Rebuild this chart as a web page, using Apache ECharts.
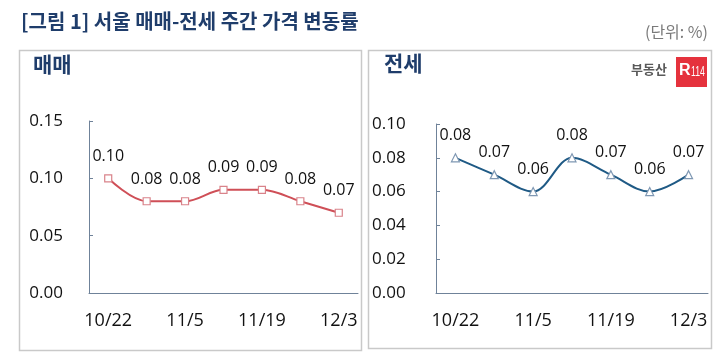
<!DOCTYPE html>
<html><head><meta charset="utf-8">
<script src="https://cdn.jsdelivr.net/npm/echarts@6/dist/echarts.min.js"></script>
<style>html,body{margin:0;padding:0;background:#fff}#c{width:720px;height:362px}</style>
</head><body><div id="c"></div>
<script>
const categories = ['10/22','10/29','11/5','11/12','11/19','11/26','12/3'];
const saleValues = [0.10, 0.08, 0.08, 0.09, 0.09, 0.08, 0.07];
const jeonseValues = [0.08, 0.07, 0.06, 0.08, 0.07, 0.06, 0.07];
const saleTicks = { min: 0, max: 0.15, interval: 0.05 };
const jeonseTicks = { min: 0, max: 0.10, interval: 0.02 };
const titleText = '[그림 1] 서울 매매-전세 주간 가격 변동률';
const unitText = '(단위: %)';
const panelNames = ['매매', '전세'];

const numFont = '"Open Sans", "Noto Sans", sans-serif';
const krFont = '"Noto Sans CJK KR", sans-serif';
const navy = '#1f3d6b';
const axisColor = '#6f8299';

const chart = echarts.init(document.getElementById('c'));
function yAx(grid, t, margin, align) {
  return {
    type: 'value', gridIndex: grid, min: t.min, max: t.max, interval: t.interval,
    splitLine: { show: false },
    axisLine: { show: true, lineStyle: { color: axisColor, width: 1 } },
    axisTick: { show: true, inside: true, length: 4, lineStyle: { color: axisColor } },
    axisLabel: { margin: margin, align: align, color: '#111', fontSize: 17, fontFamily: numFont,
      formatter: v => v.toFixed(2) }
  };
}
function xAx(grid) {
  return {
    type: 'category', gridIndex: grid, data: categories, boundaryGap: true,
    axisLine: { show: true, lineStyle: { color: axisColor, width: 1 } },
    axisTick: { show: false },
    axisLabel: { interval: 1, margin: 19, color: '#111', fontSize: 18, fontFamily: numFont }
  };
}
function lineSeries(idx, data, color, symbol, size, border) {
  return {
    type: 'line', xAxisIndex: idx, yAxisIndex: idx, data: data, smooth: 0.35,
    symbol: symbol, symbolSize: size, showAllSymbol: true,
    lineStyle: { color: color, width: 2 },
    itemStyle: { color: '#fff', borderColor: border, borderWidth: 1.2 },
    label: { show: true, position: 'top', distance: 10, color: '#111', fontSize: 16, fontFamily: numFont,
      formatter: p => p.value.toFixed(2) },
    emphasis: { disabled: true }, z: 3
  };
}
chart.setOption({
  animation: false,
  grid: [
    { left: 89, top: 121, width: 269, height: 172 },
    { left: 436, top: 124, width: 272, height: 169 }
  ],
  xAxis: [xAx(0), xAx(1)],
  yAxis: [yAx(0, saleTicks, 26, 'right'), yAx(1, jeonseTicks, 64, 'left')],
  series: [
    lineSeries(0, saleValues, '#cf4f57', 'rect', 7, '#d9838a'),
    lineSeries(1, jeonseValues, '#1f5a85', 'triangle', 8, '#7f98b3')
  ],
  graphic: [
    { type: 'text', left: 21, top: 11, style: { text: titleText, font: 'bold 20px ' + krFont, fill: navy } },
    { type: 'text', right: 12, top: 24, style: { text: unitText, font: '16px ' + krFont, fill: '#7a7a7a' } },
    { type: 'rect', shape: { x: 19.5, y: 50.5, width: 342, height: 300 }, style: { fill: 'none', stroke: '#c9c9c9', lineWidth: 1.5 }, z: -1 },
    { type: 'rect', shape: { x: 368.5, y: 50.5, width: 343, height: 298 }, style: { fill: 'none', stroke: '#c9c9c9', lineWidth: 1.5 }, z: -1 },
    { type: 'text', left: 33, top: 54, style: { text: panelNames[0], font: 'bold 21px ' + krFont, fill: navy } },
    { type: 'text', left: 384, top: 53, style: { text: panelNames[1], font: 'bold 21px ' + krFont, fill: navy } },
    { type: 'text', left: 631, top: 63, style: { text: '부동산', font: 'bold 13px ' + krFont, fill: '#5a5a5a' } },
    { type: 'rect', shape: { x: 676, y: 57, width: 31, height: 30 }, style: { fill: '#e5323d' } },
    { type: 'text', left: 679, top: 63, style: { text: 'R', font: 'bold 16px "Liberation Sans", sans-serif', fill: '#fff' } },
    { type: 'text', x: 691, y: 65, scaleX: 0.62, style: { text: '114', font: '14px "Liberation Sans", sans-serif', fill: '#fff' } }
  ]
});
</script></body></html>
